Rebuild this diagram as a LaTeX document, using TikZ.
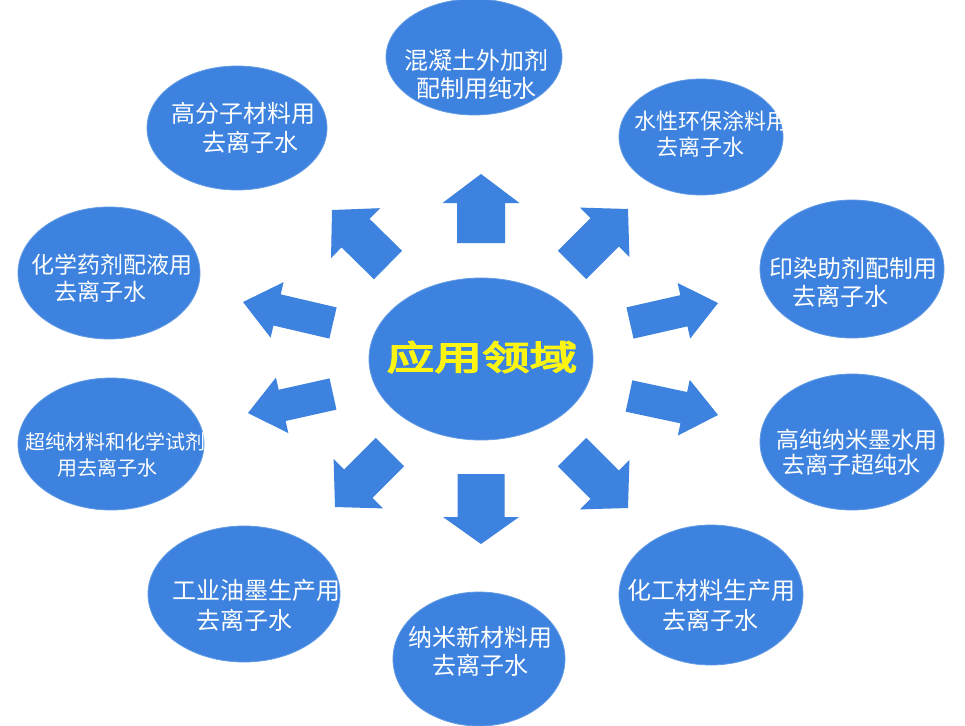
\documentclass[tikz,border=0pt]{standalone}
\usepackage{fontspec}
\newfontfamily\cjk{Noto Sans CJK SC}
\newfontfamily\cjkheavy{Noto Sans CJK SC}[FakeBold=4]
\usetikzlibrary{calc,shapes.geometric}
\definecolor{bub}{RGB}{60,130,222}
\definecolor{ylw}{RGB}{252,245,20}
\newcommand\blockarrow[5]{%
  \coordinate (hb) at ($(#2)!#5!(#1)$);
  \fill[arrowfill] ($(#1)!#3!90:(#2)$) -- ($(hb)!#3!90:(#2)$) -- ($(hb)!#4!90:(#2)$) -- (#2)
    -- ($(hb)!#4!-90:(#2)$) -- ($(hb)!#3!-90:(#2)$) -- ($(#1)!#3!-90:(#2)$) -- cycle;}
\begin{document}
\begin{tikzpicture}[x=1pt,y=-1pt,
  bubble/.style={ellipse, fill=bub, draw=bub!80!white, line width=0.8pt, inner sep=0pt},
  arrowfill/.style={fill=bub},
  txt/.style={text=white, inner sep=0pt, font=\cjk\fontsize{24}{24}\selectfont},
  smalltxt/.style={txt, font=\cjk\fontsize{20}{20}\selectfont}]
\useasboundingbox[fill=white] (0,0) rectangle (965,725);

% bubbles
\node[bubble, minimum width=224pt, minimum height=162pt] (c) at (481,359) {};
\node[bubble, minimum width=176pt, minimum height=116pt] (n1) at (474,57) {};
\node[bubble, minimum width=180pt, minimum height=124pt] (n2) at (237,128) {};
\node[bubble, minimum width=164pt, minimum height=116pt] (n3) at (701,137) {};
\node[bubble, minimum width=182pt, minimum height=132pt] (n4) at (109,273) {};
\node[bubble, minimum width=184pt, minimum height=138pt] (n5) at (852,269) {};
\node[bubble, minimum width=186pt, minimum height=132pt] (n6) at (111,444) {};
\node[bubble, minimum width=184pt, minimum height=136pt] (n7) at (852,442) {};
\node[bubble, minimum width=192pt, minimum height=136pt] (n8) at (244,594) {};
\node[bubble, minimum width=172pt, minimum height=134pt] (n9) at (479,659) {};
\node[bubble, minimum width=184pt, minimum height=140pt] (n10) at (711,595) {};

% center text
\node[text=ylw, inner sep=0pt, xscale=1.4, font=\cjkheavy\fontsize{34}{34}\selectfont] (ct) at (482,357) {应用领域};

% labels
\node[txt] (t1a) at (476,60) {混凝土外加剂};
\node[txt] (t1b) at (476,88) {配制用纯水};
\node[txt] (t2a) at (243,113) {高分子材料用};
\node[txt] (t2b) at (250,142) {去离子水};
\node[txt, font=\cjk\fontsize{22}{22}\selectfont] (t3a) at (711,121) {水性环保涂料用};
\node[txt, font=\cjk\fontsize{22}{22}\selectfont] (t3b) at (700,147) {去离子水};
\node[txt, font=\cjk\fontsize{23}{23}\selectfont] (t4a) at (112,265) {化学药剂配液用};
\node[txt, font=\cjk\fontsize{23}{23}\selectfont] (t4b) at (100,292) {去离子水};
\node[txt] (t5a) at (853,268) {印染助剂配制用};
\node[txt] (t5b) at (840,296) {去离子水};
\node[smalltxt] (t6a) at (115,442) {超纯材料和化学试剂};
\node[smalltxt] (t6b) at (107,468) {用去离子水};
\node[txt, font=\cjk\fontsize{23}{23}\selectfont] (t7a) at (857,440) {高纯纳米墨水用};
\node[txt, font=\cjk\fontsize{23}{23}\selectfont] (t7b) at (851,465) {去离子超纯水};
\node[txt] (t8a) at (256,590) {工业油墨生产用};
\node[txt] (t8b) at (244,620) {去离子水};
\node[txt] (t9a) at (480,637) {纳米新材料用};
\node[txt] (t9b) at (480,665) {去离子水};
\node[txt] (t10a) at (711,590) {化工材料生产用};
\node[txt] (t10b) at (710,620) {去离子水};

% arrow end points
\coordinate (a1t) at (481,243); \coordinate (a1h) at (481,174);
\coordinate (a2t) at (481,474); \coordinate (a2h) at (481,544);
\coordinate (a3t) at (388,265); \coordinate (a3h) at (332,210);
\coordinate (a4t) at (572,265); \coordinate (a4h) at (628,209);
\coordinate (a5t) at (390,452); \coordinate (a5h) at (335,507);
\coordinate (a6t) at (572,452); \coordinate (a6h) at (628,508);
\coordinate (a7t) at (333,323); \coordinate (a7h) at (243,302);
\coordinate (a8t) at (630,323); \coordinate (a8h) at (718,303);
\coordinate (a9t) at (333,394); \coordinate (a9h) at (248,413);
\coordinate (a10t) at (629,396); \coordinate (a10h) at (718,415);

\blockarrow{a1t}{a1h}{24pt}{38.5pt}{29pt}
\blockarrow{a2t}{a2h}{23.5pt}{38pt}{27pt}
\blockarrow{a3t}{a3h}{20pt}{35pt}{33pt}
\blockarrow{a4t}{a4h}{20pt}{35pt}{33pt}
\blockarrow{a5t}{a5h}{20pt}{35pt}{33pt}
\blockarrow{a6t}{a6h}{20pt}{35pt}{33pt}
\blockarrow{a7t}{a7h}{16pt}{28.5pt}{35pt}
\blockarrow{a8t}{a8h}{16pt}{28.5pt}{35pt}
\blockarrow{a9t}{a9h}{16pt}{28.5pt}{35pt}
\blockarrow{a10t}{a10h}{16pt}{28.5pt}{35pt}
\end{tikzpicture}
\end{document}
